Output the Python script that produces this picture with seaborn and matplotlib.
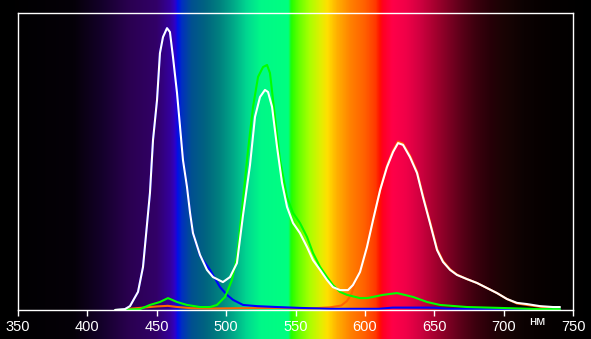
import numpy as np
import pandas as pd
import matplotlib
matplotlib.use("Agg")
import matplotlib.pyplot as plt
from matplotlib.colors import LinearSegmentedColormap
import seaborn as sns

# ---------------- data ----------------
x_ticks = [350, 400, 450, 500, 550, 600, 650, 700, 750]
unit_label = "нм"

white_nm = [420, 427.1, 430.7, 436.5, 440.1, 445.1, 447.3, 450.2, 452.3, 454.5, 457.4, 459.5,
            461.7, 464.6, 466.8, 468.9, 471.8, 474.0, 476.1, 481.2, 486.2, 490.5, 497.7,
            502.8, 507.8, 512.2, 517.2, 520.8, 524.4, 528.0, 530.2, 533.1, 536.7, 540.3,
            543.9, 548.2, 553.2, 558.3, 562.6, 567.7, 572.7, 577.0, 582.1, 587.8, 591.4,
            596.5, 601.5, 605.9, 611.0, 615.9, 620.3, 623.9, 627.5, 632.5, 637.6, 641.9,
            646.9, 652.0, 656.3, 661.4, 666.4, 673.6, 680.8, 688.0, 695.2, 702.4, 709.6,
            716.8, 726.2, 735.6, 740.6]
white_val = [0.0, 0.003, 0.013, 0.061, 0.145, 0.394, 0.572, 0.707, 0.865, 0.919, 0.949, 0.936,
             0.852, 0.731, 0.616, 0.505, 0.414, 0.327, 0.259, 0.185, 0.135, 0.111, 0.094,
             0.111, 0.158, 0.320, 0.488, 0.650, 0.717, 0.741, 0.734, 0.684, 0.549, 0.428,
             0.347, 0.293, 0.259, 0.212, 0.168, 0.135, 0.101, 0.077, 0.067, 0.067, 0.084,
             0.128, 0.212, 0.303, 0.404, 0.481, 0.532, 0.562, 0.556, 0.515, 0.461, 0.380,
             0.293, 0.202, 0.162, 0.135, 0.118, 0.104, 0.091, 0.074, 0.057, 0.037, 0.024,
             0.020, 0.013, 0.010, 0.010]

green_nm = [420, 437.9, 445.1, 452.3, 458.1, 464.6, 471.8, 481.2, 488.4, 493.4, 499.2, 504.2,
            507.8, 511.4, 515.8, 519.4, 523.0, 526.6, 529.5, 531.6, 535.2, 538.8, 543.9,
            548.2, 553.2, 558.3, 562.6, 567.7, 572.7, 577.0, 582.1, 587.1, 596.5, 601.5,
            613.1, 623.2, 634.7, 644.8, 654.1, 673.6, 697.4, 726.2, 740.6]
green_val = [0.0, 0.003, 0.017, 0.027, 0.040, 0.027, 0.017, 0.010, 0.010, 0.017, 0.044, 0.101,
             0.178, 0.337, 0.539, 0.684, 0.785, 0.818, 0.825, 0.798, 0.650, 0.505, 0.380,
             0.327, 0.293, 0.246, 0.192, 0.145, 0.111, 0.084, 0.061, 0.051, 0.040, 0.040,
             0.051, 0.057, 0.044, 0.027, 0.017, 0.010, 0.007, 0.003, 0.003]

blue_nm = [420, 427.1, 430.7, 436.5, 440.1, 445.1, 447.3, 450.2, 452.3, 454.5, 457.4, 459.5,
           461.7, 464.6, 466.8, 468.9, 471.8, 474.0, 476.1, 481.2, 483.3, 488.4, 495.6, 500.6,
           505.0, 512.2, 522.2, 536.7, 553.2, 575.0, 610.0, 620.0, 650.0, 660.0, 740.6]
blue_val = [0.0, 0.003, 0.013, 0.061, 0.145, 0.394, 0.572, 0.707, 0.865, 0.919, 0.949, 0.936,
            0.852, 0.731, 0.616, 0.505, 0.414, 0.327, 0.259, 0.182, 0.168, 0.135, 0.077, 0.051,
            0.034, 0.017, 0.013, 0.010, 0.007, 0.004, 0.004, 0.008, 0.008, 0.004, 0.003]

red_nm = [420, 440, 450, 458, 465, 475, 490, 510, 540, 560, 575, 583, 587, 590, 593,
          596.5, 601.5, 605.9, 611.0, 615.9, 620.3, 623.9, 627.5, 632.5, 637.6, 641.9,
          646.9, 652.0, 656.3, 661.4, 666.4, 673.6, 680.8, 688.0, 695.2, 702.4, 709.6,
          716.8, 726.2, 735.6, 740.6]
red_val = [0.0, 0.008, 0.012, 0.014, 0.010, 0.006, 0.005, 0.006, 0.007, 0.005, 0.009, 0.015,
           0.030, 0.050, 0.090, 0.128, 0.212, 0.303, 0.406, 0.485, 0.537, 0.567, 0.560, 0.520,
           0.466, 0.385, 0.298, 0.206, 0.165, 0.137, 0.119, 0.104, 0.091, 0.074, 0.057, 0.037,
           0.022, 0.017, 0.011, 0.006, 0.004]

# spectrum background colour stops (wavelength, colour)
spec_nm = [337, 390, 410, 430, 450, 460, 463, 465, 468, 475, 485, 495, 505, 515, 525, 545,
           547, 552, 560, 568, 573, 580, 590, 600, 608, 611, 613, 620, 630, 640, 650, 660,
           670, 680, 690, 700, 715, 730, 763]
spec_col = ["#000000", "#050008", "#14002a", "#2a0050", "#320068", "#3400a0", "#3000c8",
            "#0010e8", "#0030c0", "#005090", "#006480", "#00807f", "#00a888", "#00d890",
            "#00f888", "#00ff80", "#20ff00", "#60ff00", "#a8ff00", "#e0f000", "#ffe000",
            "#ffb000", "#ff8000", "#ff6000", "#ff3800", "#ff1000", "#ff0020", "#ff0048",
            "#f00048", "#d00040", "#a80030", "#800024", "#5a0018", "#3c000e", "#280008",
            "#1a0404", "#0c0202", "#060000", "#000000"]

# ---------------- figure ----------------
sns.set_theme(style="dark")
plt.rcParams["font.family"] = ["Liberation Sans Narrow", "Liberation Sans", "DejaVu Sans"]

W, H = 591, 339
fig = plt.figure(figsize=(W / 100, H / 100), dpi=100)
fig.patch.set_facecolor("black")

x0_px, x1_px = 18, 573
y0_px, y1_px = 310, 13
px_per_nm = (x1_px - x0_px) / 400.0
lam_left = 350 - x0_px / px_per_nm
lam_right = 350 + (W - x0_px) / px_per_nm

# background spectrum spanning whole figure
bg = fig.add_axes([0, 0, 1, 1], zorder=0)
lo, hi = spec_nm[0], spec_nm[-1]
cmap = LinearSegmentedColormap.from_list(
    "spec", [((l - lo) / (hi - lo), c) for l, c in zip(spec_nm, spec_col)], N=1024)
grid = np.linspace(lam_left, lam_right, 1200)
bg.imshow(((grid - lo) / (hi - lo))[None, :], aspect="auto", cmap=cmap, vmin=0, vmax=1,
          extent=[lam_left, lam_right, 0, 1], interpolation="bilinear")
bg.set_xlim(lam_left, lam_right)
bg.set_ylim(0, 1)
bg.axis("off")

ax = fig.add_axes([x0_px / W, 1 - y0_px / H, (x1_px - x0_px) / W, (y0_px - y1_px) / H], zorder=1)
ax.set_facecolor("none")

series = [
    (red_nm, red_val, "#ff6400"),
    (blue_nm, blue_val, "#0000ff"),
    (green_nm, green_val, "#00ff00"),
    (white_nm, white_val, "#ffffff"),
]
for nm, val, col in series:
    df = pd.DataFrame({"nm": nm, "v": val})
    sns.lineplot(data=df, x="nm", y="v", ax=ax, color=col, linewidth=1.5,
                 estimator=None, sort=False)

ax.set_xlim(350, 750)
ax.set_ylim(0, 1)
ax.set_xlabel("")
ax.set_ylabel("")
ax.grid(False)
ax.set_xticks(x_ticks)
ax.set_xticklabels([str(t) for t in x_ticks])
ax.set_yticks([])
ax.tick_params(axis="x", colors="white", length=4, width=1, pad=3, labelsize=10.5,
               direction="out", bottom=True)
for s in ax.spines.values():
    s.set_visible(True)
    s.set_color("white")
    s.set_linewidth(1.0)

fig.text(537 / W, 1 - 322 / H, unit_label, color="white", fontsize=9.5,
         ha="center", va="center")

fig.savefig("out.png", dpi=100, facecolor="black")
